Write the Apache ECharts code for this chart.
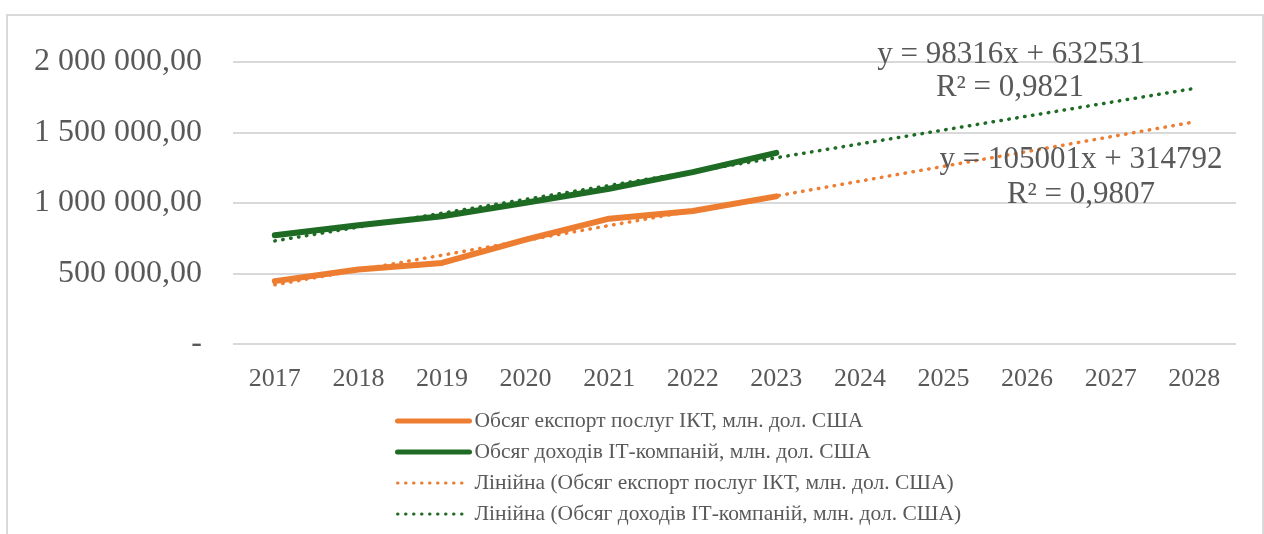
<!DOCTYPE html>
<html><head><meta charset="utf-8">
<script src="https://cdn.jsdelivr.net/npm/echarts@6/dist/echarts.min.js"></script>
<style>html,body{margin:0;padding:0;background:#fff}#c{width:1264px;height:534px}</style>
</head><body><div id="c"></div>
<script>
const years = ['2017','2018','2019','2020','2021','2022','2023','2024','2025','2026','2027','2028'];
const exportICT = [446000, 528000, 575000, 740000, 889000, 943000, 1047000];
const incomeIT = [771000, 842000, 906000, 1002000, 1101000, 1219000, 1356000];
const trendExport = [419793, 524794, 629795, 734796, 839797, 944798, 1049799, 1154800, 1259801, 1364802, 1469803, 1574804];
const trendIncome = [730847, 829163, 927479, 1025795, 1124111, 1222427, 1320743, 1419059, 1517375, 1615691, 1714007, 1812323];
const seriesNames = [
  'Обсяг експорт послуг ІКТ, млн. дол. США',
  'Обсяг доходів ІТ-компаній, млн. дол. США',
  'Лінійна (Обсяг експорт послуг ІКТ, млн. дол. США)',
  'Лінійна (Обсяг доходів ІТ-компаній, млн. дол. США)'
];
const eqIncome = ['y = 98316x + 632531', 'R² = 0,9821'];
const eqExport = ['y = 105001x + 314792', 'R² = 0,9807'];

const ORANGE = '#ED7D31', GREEN = '#1E6B24', TXT = '#595959';
const FONT = '"Liberation Serif","Times New Roman",serif';
const DOTS = [0.5, 7.5];

function fmt(v){
  if (v === 0) return '-';
  const s = Math.round(v).toString().replace(/\B(?=(\d{3})+(?!\d))/g, ' ');
  return s + ',00';
}

const chart = echarts.init(document.getElementById('c'));
chart.setOption({
  animation: false,
  backgroundColor: '#fff',
  grid: { left: 233, right: 28, top: 62, bottom: 190, containLabel: false },
  xAxis: {
    type: 'category', data: years, boundaryGap: true,
    axisLine: { show: false }, axisTick: { show: false },
    axisLabel: { color: TXT, fontFamily: FONT, fontSize: 26, margin: 22 }
  },
  yAxis: {
    type: 'value', min: 0, max: 2000000, interval: 500000,
    axisLine: { show: false }, axisTick: { show: false },
    splitLine: { lineStyle: { color: '#d9d9d9', width: 2 } },
    axisLabel: { color: TXT, fontFamily: FONT, fontSize: 32, margin: 31, formatter: fmt }
  },
  legend: {
    orient: 'vertical', left: 390, top: 405, height: 220,
    itemWidth: 72, itemHeight: 10, itemGap: 9,
    itemStyle: { opacity: 0 },
    textStyle: { color: TXT, fontFamily: FONT, fontSize: 21.5 },
    data: [
      { name: seriesNames[0], lineStyle: { width: 5, cap: 'round', color: ORANGE } },
      { name: seriesNames[1], lineStyle: { width: 5, cap: 'round', color: GREEN } },
      { name: seriesNames[2], lineStyle: { width: 3, type: DOTS, cap: 'round', color: ORANGE } },
      { name: seriesNames[3], lineStyle: { width: 3, type: DOTS, cap: 'round', color: GREEN } }
    ]
  },
  series: [
    { name: seriesNames[0], type: 'line', data: exportICT, symbol: 'none', z: 2,
      lineStyle: { color: ORANGE, width: 6, cap: 'round', join: 'round' }, itemStyle: { color: ORANGE } },
    { name: seriesNames[1], type: 'line', data: incomeIT, symbol: 'none', z: 2,
      lineStyle: { color: GREEN, width: 6, cap: 'round', join: 'round' }, itemStyle: { color: GREEN } },
    { name: seriesNames[2], type: 'line', data: trendExport, symbol: 'none', z: 3,
      lineStyle: { color: ORANGE, width: 3.5, type: DOTS, cap: 'round' }, itemStyle: { color: ORANGE } },
    { name: seriesNames[3], type: 'line', data: trendIncome, symbol: 'none', z: 3,
      lineStyle: { color: GREEN, width: 3.5, type: DOTS, cap: 'round' }, itemStyle: { color: GREEN } }
  ],
  graphic: [
    { type: 'rect', silent: true, shape: { x: 7, y: 15, width: 1256, height: 540 },
      style: { fill: 'none', stroke: '#d9d9d9', lineWidth: 2 } },
    { type: 'text', x: 1011, y: 55, silent: true, z: 10,
      style: { text: eqIncome[0], fill: TXT, font: '31px ' + FONT, textAlign: 'center', textVerticalAlign: 'middle' } },
    { type: 'text', x: 1010, y: 88, silent: true, z: 10,
      style: { text: eqIncome[1], fill: TXT, font: '31px ' + FONT, textAlign: 'center', textVerticalAlign: 'middle' } },
    { type: 'text', x: 1081, y: 160, silent: true, z: 10,
      style: { text: eqExport[0], fill: TXT, font: '31px ' + FONT, textAlign: 'center', textVerticalAlign: 'middle' } },
    { type: 'text', x: 1081, y: 195, silent: true, z: 10,
      style: { text: eqExport[1], fill: TXT, font: '31px ' + FONT, textAlign: 'center', textVerticalAlign: 'middle' } }
  ]
});
</script></body></html>
